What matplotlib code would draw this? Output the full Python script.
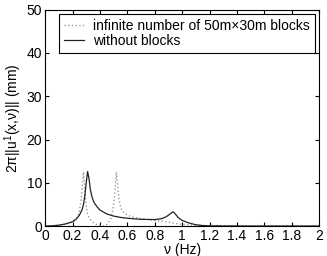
import matplotlib
matplotlib.use("Agg")
import matplotlib.pyplot as plt
from matplotlib import rc
rc('mathtext', default='regular')
plt.rcParams['font.family'] = ['Liberation Sans', 'DejaVu Sans']
plt.rcParams['font.size'] = 10

##### DATA ##########################
# without blocks (solid)
freq_solid = [0.0, 0.05, 0.1, 0.15, 0.2, 0.23, 0.25, 0.27, 0.28, 0.29, 0.30, 0.31, 0.32,
              0.33, 0.34, 0.35, 0.36, 0.38, 0.40, 0.45, 0.50, 0.55, 0.60, 0.70, 0.80,
              0.85, 0.88, 0.90, 0.92, 0.935, 0.95, 0.97, 1.0, 1.05, 1.1, 1.15, 1.2,
              1.3, 1.5, 2.0]
amp_solid = [0.0, 0.05, 0.2, 0.5, 1.0, 1.7, 2.5, 3.8, 5.0, 7.0, 10.0, 12.6, 11.0,
             8.5, 7.0, 6.0, 5.3, 4.4, 3.7, 2.8, 2.3, 2.0, 1.8, 1.55, 1.5,
             1.7, 2.1, 2.5, 3.0, 3.3, 2.8, 2.0, 1.3, 0.7, 0.3, 0.12, 0.05,
             0.02, 0.0, 0.0]

# infinite number of 50m x 30m blocks (dotted)
freq_dot = [0.0, 0.05, 0.1, 0.15, 0.2, 0.22, 0.24, 0.25, 0.26, 0.27, 0.28, 0.29, 0.30,
            0.31, 0.32, 0.34, 0.36, 0.38, 0.40, 0.42, 0.43, 0.44, 0.46, 0.48, 0.49,
            0.50, 0.51, 0.52, 0.53, 0.54, 0.55, 0.56, 0.58, 0.60, 0.65, 0.70, 0.75,
            0.80, 0.85, 0.90, 0.95, 1.0, 1.1, 1.2, 1.5, 2.0]
amp_dot = [0.0, 0.05, 0.15, 0.4, 0.9, 1.4, 2.4, 3.5, 5.5, 8.5, 12.5, 8.0, 4.5,
           2.8, 2.0, 1.1, 0.6, 0.3, 0.15, 0.05, 0.0, 0.1, 0.6, 1.8, 3.0,
           5.0, 8.5, 12.5, 9.0, 6.0, 4.5, 3.6, 2.9, 2.5, 2.0, 1.7, 1.5,
           1.3, 1.1, 0.9, 0.6, 0.4, 0.15, 0.05, 0.0, 0.0]

##### PLOT ##########################
fig = plt.figure(figsize=(3.27, 2.56), dpi=100)
ax = fig.add_axes([0.138, 0.117, 0.838, 0.845])

ax.plot(freq_dot, amp_dot, ':', color='#999999', linewidth=1.0,
        label=u'infinite number of 50m\u00d730m blocks')
ax.plot(freq_solid, amp_solid, '-', color='#222222', linewidth=0.9,
        label='without blocks')

ax.set_xlim(0, 2)
ax.set_ylim(0, 50)
ax.set_xticks([0, 0.2, 0.4, 0.6, 0.8, 1, 1.2, 1.4, 1.6, 1.8, 2])
ax.set_xticklabels(['0', '0.2', '0.4', '0.6', '0.8', '1', '1.2', '1.4', '1.6', '1.8', '2'])
ax.set_yticks([0, 10, 20, 30, 40, 50])
ax.tick_params(direction='in', top=True, right=True, length=3, pad=2, labelsize=10)
for s in ax.spines.values():
    s.set_linewidth(0.8)

ax.set_xlabel(u'\u03bd (Hz)', labelpad=0, fontsize=10)
ax.set_ylabel(u'2\u03c0||u$^1$(x,\u03bd)|| (mm)', labelpad=2, fontsize=10)

leg = ax.legend(loc='upper right', fontsize=10, fancybox=False, framealpha=1,
                edgecolor='black', borderpad=0.35, labelspacing=0.1,
                handlelength=1.45, handletextpad=0.65, borderaxespad=0.3)
leg.get_frame().set_linewidth(0.8)

plt.savefig('out.png', dpi=100)
